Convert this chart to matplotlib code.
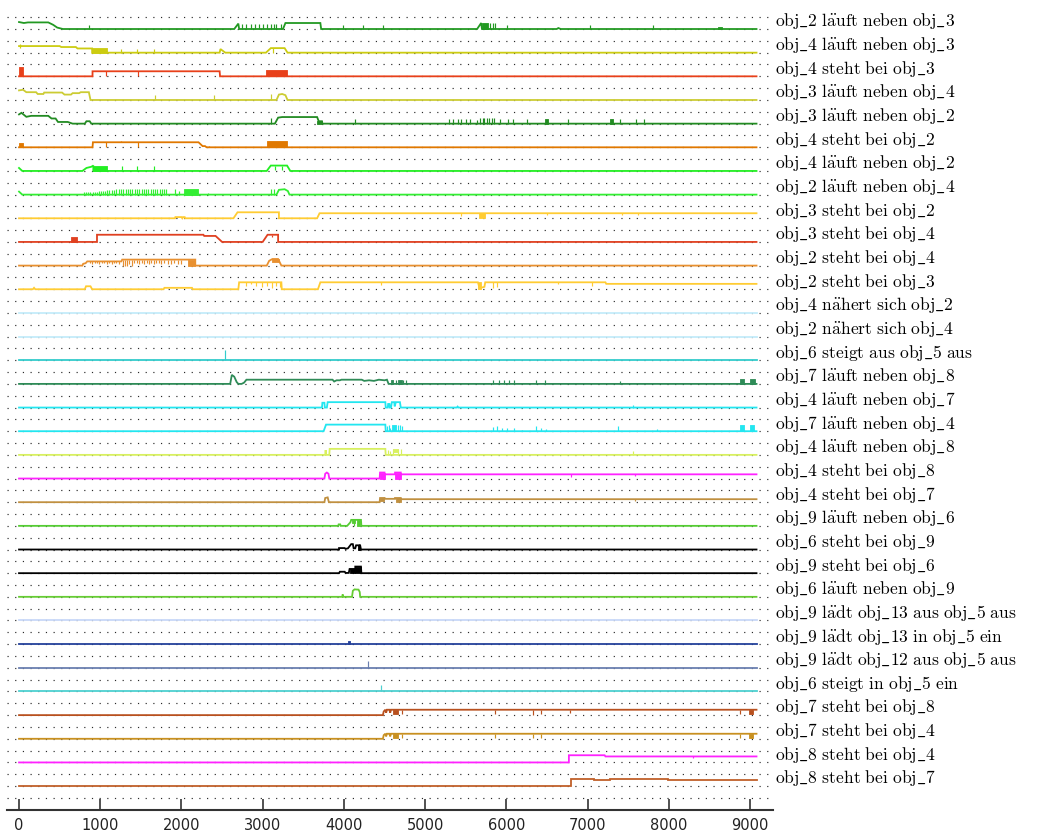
import matplotlib
matplotlib.use("Agg")
import matplotlib.pyplot as plt

plt.rcParams["mathtext.fontset"] = "cm"

LABELS = [
    "obj_2 läuft neben obj_3", "obj_4 läuft neben obj_3", "obj_4 steht bei obj_3",
    "obj_3 läuft neben obj_4", "obj_3 läuft neben obj_2", "obj_4 steht bei obj_2",
    "obj_4 läuft neben obj_2", "obj_2 läuft neben obj_4", "obj_3 steht bei obj_2",
    "obj_3 steht bei obj_4", "obj_2 steht bei obj_4", "obj_2 steht bei obj_3",
    "obj_4 nähert sich obj_2", "obj_2 nähert sich obj_4", "obj_6 steigt aus obj_5 aus",
    "obj_7 läuft neben obj_8", "obj_4 läuft neben obj_7", "obj_7 läuft neben obj_4",
    "obj_4 läuft neben obj_8", "obj_4 steht bei obj_8", "obj_4 steht bei obj_7",
    "obj_9 läuft neben obj_6", "obj_6 steht bei obj_9", "obj_9 steht bei obj_6",
    "obj_6 läuft neben obj_9", "obj_9 lädt obj_13 aus obj_5 aus",
    "obj_9 lädt obj_13 in obj_5 ein", "obj_9 lädt obj_12 aus obj_5 aus",
    "obj_6 steigt in obj_5 ein", "obj_7 steht bei obj_8", "obj_7 steht bei obj_4",
    "obj_8 steht bei obj_4", "obj_8 steht bei obj_7",
]

COLORS = [
    "#229922", "#cccc11", "#e8401a", "#cccc33", "#228b22", "#e07800",
    "#22ee22", "#33ee33", "#ffcc33", "#e04020", "#e89030", "#ffcc33",
    "#c4ecfa", "#c4ecfa", "#33cccc", "#2e8b57", "#22e6f0", "#22e6f0",
    "#d8f060", "#ff22ff", "#c09040", "#55cc33", "#000000", "#000000",
    "#66cc33", "#c8d8f8", "#23409a", "#6a7fb0", "#4dd0d0", "#b8501e",
    "#c89020", "#ff22ff", "#c0602a",
]

X_END = 9080
X_TICKS = [0, 1000, 2000, 3000, 4000, 5000, 6000, 7000, 8000, 9000]

# paths: (x, level) polyline; spikes: (x, top, bottom); blocks: (x0, x1, top, bottom)
path_01 = [(0, 0.58), (60, 0.5), (110, 0.55), (360, 0.55), (420, 0.35), (470, 0.12),
           (540, 0), (2650, 0), (2700, 0.45), (2710, 0), (3250, 0), (3280, 0.5),
           (3710, 0.5), (3720, 0), (5640, 0), (5690, 0.5), (5700, 0), (6620, 0),
           (6640, 0.08), (6670, 0), (X_END, 0)]
spikes_01 = [(860, 0.35, 0), (2740, 0.45, 0), (2800, 0.45, 0), (2850, 0.45, 0),
             (2900, 0.45, 0), (2960, 0.45, 0), (3010, 0.45, 0), (3050, 0.45, 0),
             (3100, 0.45, 0), (3140, 0.45, 0), (3170, 0.45, 0), (3230, 0.45, 0),
             (3990, 0.3, 0), (4240, 0.3, 0), (4480, 0.35, 0), (5800, 0.5, 0),
             (5830, 0.5, 0), (5860, 0.5, 0), (6010, 0.35, 0), (7030, 0.35, 0),
             (7800, 0.35, 0)]
blocks_01 = [(5700, 5780, 0.5, 0), (8610, 8650, 0.2, 0)]

path_02 = [(0, 0.55), (500, 0.55), (520, 0.47), (700, 0.47), (720, 0.35), (900, 0.35),
           (900, 0), (2470, 0), (2480, 0.3), (2540, 0), (3040, 0), (3100, 0.38),
           (3270, 0.38), (3306, 0), (X_END, 0)]
spikes_02 = [(12, 0.7, 0.4), (1250, 0.28, 0), (1450, 0.28, 0), (1660, 0.28, 0),
             (3130, 0.38, 0)]
blocks_02 = [(900, 1080, 0.35, 0)]

path_03 = [(0, 0), (905, 0), (905, 0.42), (2470, 0.42), (2475, 0), (X_END, 0)]
spikes_03 = [(1070, 0.42, 0), (1460, 0.42, 0)]
blocks_03 = [(0, 45, 0.75, 0), (3040, 3300, 0.5, 0)]

path_04 = [(0, 0.8), (50, 0.85), (90, 0.65), (210, 0.65), (230, 0.5), (300, 0.5),
           (310, 0.62), (530, 0.62), (560, 0.45), (640, 0.45), (660, 0.57),
           (740, 0.57), (760, 0.65), (860, 0.65), (880, 0), (3170, 0), (3200, 0.45),
           (3240, 0.5), (3280, 0.4), (3306, 0), (X_END, 0)]
spikes_04 = [(1670, 0.45, 0), (2400, 0.45, 0), (3100, 0.5, 0)]
blocks_04 = []

path_05 = [(0, 0.77), (30, 0.9), (90, 0.57), (150, 0.65), (360, 0.65), (400, 0.43),
           (450, 0.43), (480, 0.14), (600, 0.14), (660, 0), (810, 0), (830, 0.2),
           (870, 0.2), (890, 0), (3150, 0), (3190, 0.5), (3240, 0.55), (3670, 0.55),
           (3690, 0.2), (3730, 0.2), (3735, 0), (X_END, 0)]
spikes_05 = [(3100, 0.45, 0), (4140, 0.35, 0), (5300, 0.4, 0), (5340, 0.4, 0),
             (5400, 0.4, 0), (5440, 0.4, 0), (5500, 0.4, 0), (5550, 0.4, 0),
             (5640, 0.3, 0), (5680, 0.45, 0), (5710, 0.45, 0), (5730, 0.45, 0),
             (5760, 0.45, 0), (5790, 0.45, 0), (5820, 0.45, 0), (5850, 0.45, 0),
             (5920, 0.35, 0), (6020, 0.35, 0), (6080, 0.35, 0), (6260, 0.4, 0),
             (6760, 0.4, 0), (7400, 0.4, 0), (7600, 0.4, 0), (7700, 0.4, 0)]
blocks_05 = [(3670, 3730, 0.2, 0), (6480, 6510, 0.4, 0), (7270, 7310, 0.4, 0)]

path_06 = [(0, 0), (905, 0), (910, 0.42), (2210, 0.42), (2260, 0.1), (2290, 0.1),
           (2310, 0), (X_END, 0)]
spikes_06 = [(1070, 0.42, 0), (1460, 0.42, 0), (1250, 0.5, 0.42), (2340, 0.1, 0)]
blocks_06 = [(0, 45, 0.4, 0), (3050, 3300, 0.5, 0)]

path_07 = [(0, 0.25), (40, 0), (780, 0), (830, 0.25), (890, 0.35), (915, 0.45),
           (915, 0), (3050, 0), (3100, 0.45), (3300, 0.45), (3340, 0), (X_END, 0)]
spikes_07 = [(1265, 0.4, 0), (1456, 0.4, 0), (1659, 0.4, 0), (3150, 0.45, 0.1),
             (3240, 0.45, 0.1)]
blocks_07 = [(915, 1080, 0.45, 0)]

path_08 = [(0, 0.25), (40, 0), (3170, 0), (3200, 0.4), (3270, 0.45), (3310, 0.3),
           (3330, 0), (X_END, 0)]
spikes_08 = [(800, 0.2, 0), (830, 0.2, 0), (855, 0.2, 0), (880, 0.2, 0), (905, 0.2, 0),
             (930, 0.2, 0), (955, 0.25, 0), (985, 0.3, 0), (1010, 0.3, 0),
             (1035, 0.3, 0), (1060, 0.3, 0), (1085, 0.35, 0), (1110, 0.35, 0),
             (1140, 0.35, 0), (1170, 0.35, 0), (1200, 0.45, 0), (1228, 0.45, 0),
             (1256, 0.45, 0), (1284, 0.45, 0), (1312, 0.45, 0), (1340, 0.45, 0),
             (1368, 0.45, 0), (1396, 0.45, 0), (1424, 0.45, 0), (1452, 0.45, 0),
             (1480, 0.45, 0), (1508, 0.45, 0), (1536, 0.45, 0), (1564, 0.45, 0),
             (1592, 0.45, 0), (1620, 0.45, 0), (1648, 0.45, 0), (1676, 0.45, 0),
             (1704, 0.45, 0), (1732, 0.45, 0), (1760, 0.45, 0), (1788, 0.45, 0),
             (1810, 0.45, 0), (1925, 0.45, 0), (1965, 0.3, 0), (2330, 0.1, 0),
             (3100, 0.45, 0), (3140, 0.45, 0)]
blocks_08 = [(2030, 2200, 0.45, 0)]

path_09 = [(0, 0), (1920, 0), (1925, 0.1), (2000, 0.1), (2010, 0), (2020, 0.1),
           (2040, 0.1), (2045, 0), (2640, 0), (2690, 0.5), (3200, 0.5), (3200, 0),
           (3670, 0), (3700, 0.42), (X_END, 0.42)]
spikes_09 = [(5440, 0.42, 0.2), (6500, 0.42, 0.25), (7430, 0.42, 0.25), (7620, 0.42, 0.3)]
blocks_09 = [(5660, 5740, 0.42, 0)]

path_10 = [(0, 0), (960, 0), (960, 0.6), (2270, 0.6), (2280, 0.5), (2420, 0.5),
           (2500, 0), (3000, 0), (3060, 0.6), (3190, 0.6), (3190, 0), (X_END, 0)]
spikes_10 = [(3120, 0.6, 0.45)]
blocks_10 = [(635, 710, 0.45, 0)]

path_11 = [(0, 0), (780, 0), (790, 0.15), (820, 0.2), (840, 0.35), (1260, 0.35),
           (1270, 0.5), (2170, 0.5), (2170, 0), (3050, 0), (3080, 0.4), (3120, 0.55),
           (3190, 0.55), (3230, 0), (X_END, 0)]
spikes_11 = [(870, 0.35, 0.2), (900, 0.35, 0.15), (930, 0.35, 0.25), (960, 0.35, 0.2),
             (990, 0.35, 0.15), (1020, 0.35, 0.2), (1050, 0.35, 0.25), (1080, 0.35, 0.15),
             (1110, 0.35, 0.2), (1140, 0.35, 0.15), (1170, 0.35, 0.2), (1200, 0.35, 0.25),
             (1230, 0.35, 0.15), (1280, 0.5, 0), (1300, 0.5, 0), (1330, 0.5, 0),
             (1360, 0.5, 0.1), (1390, 0.5, 0), (1420, 0.5, 0.2), (1450, 0.5, 0.2),
             (1480, 0.5, 0.1), (1510, 0.5, 0.2), (1540, 0.5, 0.1), (1570, 0.5, 0.2),
             (1600, 0.5, 0.1), (1630, 0.5, 0.25), (1660, 0.5, 0.1), (1690, 0.5, 0.2),
             (1720, 0.5, 0.2), (1750, 0.5, 0.1), (1790, 0.5, 0.25), (1830, 0.5, 0.1),
             (1870, 0.5, 0.1), (1910, 0.5, 0.2), (1960, 0.5, 0.1), (2000, 0.5, 0.1)]
blocks_11 = [(2080, 2170, 0.5, 0), (3110, 3200, 0.55, 0.3)]

path_12 = [(0, 0), (170, 0), (185, 0.12), (200, 0), (810, 0), (825, 0.25), (880, 0.25),
           (900, 0), (1780, 0), (1790, 0.12), (2130, 0.12), (2140, 0), (2700, 0),
           (2710, 0.58), (3230, 0.58), (3235, 0), (3680, 0), (3710, 0.58),
           (5650, 0.58), (5670, 0.1), (5730, 0.2), (5740, 0.58), (7220, 0.58),
           (7230, 0.45), (X_END, 0.45)]
spikes_12 = [(2790, 0.58, 0.3), (2850, 0.58, 0.4), (2920, 0.58, 0.3), (2990, 0.58, 0.2),
             (3050, 0.58, 0.3), (3110, 0.58, 0.1), (3170, 0.58, 0.3), (3210, 0.58, 0.2),
             (4460, 0.58, 0.35), (5830, 0.58, 0.1), (5890, 0.58, 0.2), (6640, 0.58, 0.45),
             (7060, 0.58, 0.3)]
blocks_12 = [(5650, 5690, 0.58, 0)]

path_13 = [(0, 0), (X_END, 0)]
spikes_13 = []
blocks_13 = []

path_14 = [(0, 0), (X_END, 0)]
spikes_14 = []
blocks_14 = []

path_15 = [(0, 0), (X_END, 0)]
spikes_15 = [(2540, 0.88, 0)]
blocks_15 = []

path_16 = [(0, 0), (2600, 0), (2620, 0.75), (2650, 0.6), (2680, 0.15), (2700, 0),
           (2740, 0), (2770, 0.1), (2800, 0.35), (3860, 0.35), (3880, 0.2), (3910, 0.3),
           (3950, 0.3), (3970, 0.35), (4220, 0.35), (4250, 0.25), (4310, 0.3),
           (4370, 0.25), (4430, 0.35), (4500, 0.3), (4530, 0.35), (4550, 0), (X_END, 0)]
spikes_16 = [(4640, 0.35, 0), (4730, 0.35, 0), (4760, 0.35, 0), (5840, 0.3, 0),
             (5910, 0.3, 0), (5970, 0.3, 0), (6030, 0.3, 0), (6100, 0.3, 0),
             (6370, 0.3, 0), (6470, 0.3, 0), (7400, 0.2, 0)]
blocks_16 = [(4580, 4610, 0.35, 0), (4670, 4710, 0.35, 0), (8880, 8920, 0.4, 0),
             (9000, 9060, 0.4, 0)]

path_17 = [(0, 0), (3730, 0), (3735, 0.4), (3760, 0.4), (3765, 0), (3790, 0),
           (3800, 0.45), (4510, 0.45), (4515, 0), (4540, 0), (4545, 0.3), (4560, 0.3),
           (4565, 0), (4580, 0), (4590, 0.45), (4620, 0.45), (4625, 0.1), (4640, 0.45),
           (4690, 0.45), (4700, 0), (5390, 0), (5400, 0.08), (5410, 0), (X_END, 0)]
spikes_17 = [(7560, 0.25, 0)]
blocks_17 = []

path_18 = [(0, 0), (3750, 0), (3780, 0.55), (4510, 0.55), (4515, 0), (X_END, 0)]
spikes_18 = [(4530, 0.45, 0), (4550, 0.55, 0), (4570, 0.3, 0), (4660, 0.55, 0),
             (4690, 0.55, 0), (4720, 0.4, 0), (5830, 0.35, 0), (5890, 0.45, 0),
             (5950, 0.3, 0), (6010, 0.3, 0), (6090, 0.3, 0), (6190, 0.1, 0),
             (6360, 0.45, 0), (6430, 0.3, 0), (6490, 0.15, 0), (7380, 0.4, 0),
             (7860, 0.15, 0)]
blocks_18 = [(4590, 4640, 0.55, 0), (8880, 8920, 0.5, 0), (9000, 9050, 0.5, 0)]

path_19 = [(0, 0), (3770, 0), (3775, 0.4), (3780, 0), (3820, 0), (3825, 0.5),
           (4510, 0.5), (4515, 0), (X_END, 0)]
spikes_19 = [(4540, 0.4, 0), (4570, 0.3, 0), (4600, 0.5, 0), (4670, 0.5, 0),
             (4700, 0.5, 0), (5400, 0.1, 0), (7560, 0.35, 0)]
blocks_19 = [(4610, 4660, 0.5, 0.2)]

path_20 = [(0, 0), (3760, 0), (3770, 0.4), (3790, 0.5), (3810, 0.4), (3820, 0),
           (4440, 0), (4445, 0.5), (4500, 0.5), (4500, 0.35), (4630, 0.35),
           (4630, 0.5), (4700, 0.5), (4700, 0.35), (X_END, 0.35)]
spikes_20 = [(6800, 0.35, 0.1), (7590, 0.35, 0.2)]
blocks_20 = [(4445, 4500, 0.5, 0), (4630, 4700, 0.5, 0)]

path_21 = [(0, 0), (3760, 0), (3770, 0.35), (3800, 0.4), (3815, 0), (4440, 0),
           (4445, 0.35), (4500, 0.35), (4500, 0.28), (4630, 0.28), (4630, 0.35),
           (4700, 0.35), (4700, 0.25), (X_END, 0.25)]
spikes_21 = [(7590, 0.25, 0.1)]
blocks_21 = [(4445, 4490, 0.35, 0.1), (4640, 4700, 0.35, 0)]

path_22 = [(0, 0), (3930, 0), (3935, 0.12), (3955, 0.12), (3960, 0), (4040, 0),
           (4080, 0.3), (4090, 0.5), (4210, 0.5), (4215, 0), (X_END, 0)]
spikes_22 = [(4120, 0.5, 0)]
blocks_22 = [(4100, 4140, 0.5, 0.2), (4160, 4200, 0.5, 0)]

path_23 = [(0, 0), (3940, 0), (3940, 0.12), (4010, 0.12), (4020, 0.05), (4050, 0.1),
           (4090, 0.45), (4110, 0.45), (4120, 0.1), (4140, 0.1), (4150, 0.35),
           (4200, 0.35), (4210, 0), (X_END, 0)]
spikes_23 = [(4190, 0.45, 0)]
blocks_23 = [(4170, 4200, 0.35, 0)]

path_24 = [(0, 0), (3940, 0), (3950, 0.12), (4010, 0.12), (4020, 0.02), (4060, 0.02),
           (4070, 0.35), (4140, 0.35), (4140, 0.55), (4210, 0.55), (4215, 0), (X_END, 0)]
spikes_24 = []
blocks_24 = [(4070, 4140, 0.35, 0), (4140, 4210, 0.55, 0)]

path_25 = [(0, 0), (3980, 0), (3985, 0.2), (3990, 0), (4100, 0), (4110, 0.5),
           (4130, 0.62), (4180, 0.6), (4195, 0.4), (4200, 0), (X_END, 0)]
spikes_25 = []
blocks_25 = []

path_26 = [(0, 0), (X_END, 0)]
spikes_26 = []
blocks_26 = []

path_27 = [(0, 0), (X_END, 0)]
spikes_27 = []
blocks_27 = [(4050, 4080, 0.25, 0)]

path_28 = [(0, 0), (X_END, 0)]
spikes_28 = [(4300, 0.55, 0)]
blocks_28 = []

path_29 = [(0, 0), (X_END, 0)]
spikes_29 = [(4460, 0.55, 0)]
blocks_29 = []

path_30 = [(0, 0), (4480, 0), (4490, 0.3), (4510, 0.45), (4520, 0.2), (4530, 0.45),
           (4560, 0.45), (4570, 0.2), (4580, 0.45), (X_END, 0.45)]
spikes_30 = [(4720, 0.45, 0.1), (5860, 0.45, 0.1), (6330, 0.45, 0), (6430, 0.45, 0.1),
             (6780, 0.45, 0.2), (8880, 0.45, 0.1)]
blocks_30 = [(4610, 4670, 0.45, 0.1), (8990, 9040, 0.45, 0.1)]

path_31 = [(0, 0), (4480, 0), (4490, 0.3), (4510, 0.42), (4520, 0.2), (4530, 0.42),
           (4560, 0.42), (4570, 0.2), (4580, 0.42), (X_END, 0.42)]
spikes_31 = [(4720, 0.42, 0.1), (5860, 0.42, 0.1), (6330, 0.42, 0.05), (6430, 0.42, 0.05),
             (8880, 0.42, 0.1)]
blocks_31 = [(4610, 4670, 0.42, 0.1), (8990, 9040, 0.42, 0.1)]

path_32 = [(0, 0), (6770, 0), (6770, 0.6), (7210, 0.6), (7220, 0.5), (X_END, 0.5)]
spikes_32 = [(8300, 0.5, 0.35)]
blocks_32 = []

path_33 = [(0, 0), (6790, 0), (6790, 0.6), (7080, 0.6), (7080, 0.5), (7270, 0.5),
           (7270, 0.6), (7990, 0.6), (7990, 0.5), (X_END, 0.5)]
spikes_33 = []
blocks_33 = []

PATHS = [path_01, path_02, path_03, path_04, path_05, path_06, path_07, path_08,
         path_09, path_10, path_11, path_12, path_13, path_14, path_15, path_16,
         path_17, path_18, path_19, path_20, path_21, path_22, path_23, path_24,
         path_25, path_26, path_27, path_28, path_29, path_30, path_31, path_32,
         path_33]
SPIKES = [spikes_01, spikes_02, spikes_03, spikes_04, spikes_05, spikes_06, spikes_07,
          spikes_08, spikes_09, spikes_10, spikes_11, spikes_12, spikes_13, spikes_14,
          spikes_15, spikes_16, spikes_17, spikes_18, spikes_19, spikes_20, spikes_21,
          spikes_22, spikes_23, spikes_24, spikes_25, spikes_26, spikes_27, spikes_28,
          spikes_29, spikes_30, spikes_31, spikes_32, spikes_33]
BLOCKS = [blocks_01, blocks_02, blocks_03, blocks_04, blocks_05, blocks_06, blocks_07,
          blocks_08, blocks_09, blocks_10, blocks_11, blocks_12, blocks_13, blocks_14,
          blocks_15, blocks_16, blocks_17, blocks_18, blocks_19, blocks_20, blocks_21,
          blocks_22, blocks_23, blocks_24, blocks_25, blocks_26, blocks_27, blocks_28,
          blocks_29, blocks_30, blocks_31, blocks_32, blocks_33]

HALF = 0.507  # height of a level of 1.0 within one row
N = len(LABELS)

W, H = 1045, 833
fig = plt.figure(figsize=(W / 100, H / 100), dpi=100)
ax = fig.add_axes([7 / W, 23 / H, 766 / W, 810 / H])
ax.set_xlim(-148, 9283)
ax.set_ylim(-(N - 1) - 1.01, 1.226)


def ypos(row, level):
    return -row + HALF * level


# dotted guide lines, one at each row's base and one at its top
for k in range(-1, 2 * N):
    ax.axhline(-k * 0.5, color="#2a2a2a", lw=0.85, ls=(0, (1, 5.5)), zorder=1)

lw = 1.3
for row in range(N):
    c = COLORS[row]
    xs = [p[0] for p in PATHS[row]]
    ys = [ypos(row, p[1]) for p in PATHS[row]]
    ax.plot(xs, ys, color=c, lw=lw, zorder=3, solid_joinstyle="miter")
    for x, top, bot in SPIKES[row]:
        ax.vlines(x, ypos(row, bot), ypos(row, top), colors=c, lw=0.85, zorder=3)
    for x0, x1, top, bot in BLOCKS[row]:
        ax.fill_between([x0, x1], ypos(row, bot), ypos(row, top), color=c,
                        lw=0.6, edgecolor=c, zorder=3)


def tex_label(s):
    s = s.replace("_", r"\_").replace("ä", r"\ddot{a}").replace(" ", r"\ ")
    return r"$\mathrm{" + s + "}$"


for row, lab in enumerate(LABELS):
    ax.text(1.002, ypos(row, 0.22), tex_label(lab),
            transform=ax.get_yaxis_transform(),
            fontsize=12.6, color="black", va="baseline", ha="left", clip_on=False)

for side in ("top", "left", "right"):
    ax.spines[side].set_visible(False)
ax.spines["bottom"].set_color("#333333")
ax.spines["bottom"].set_linewidth(1.5)
ax.set_yticks([])
ax.set_xticks(X_TICKS)
ax.set_xticklabels([str(t) for t in X_TICKS])
ax.tick_params(axis="x", direction="in", length=8, width=1.2, color="#333333",
               labelsize=10.5, labelcolor="#222222", pad=6)

fig.savefig("out.png", dpi=100)
